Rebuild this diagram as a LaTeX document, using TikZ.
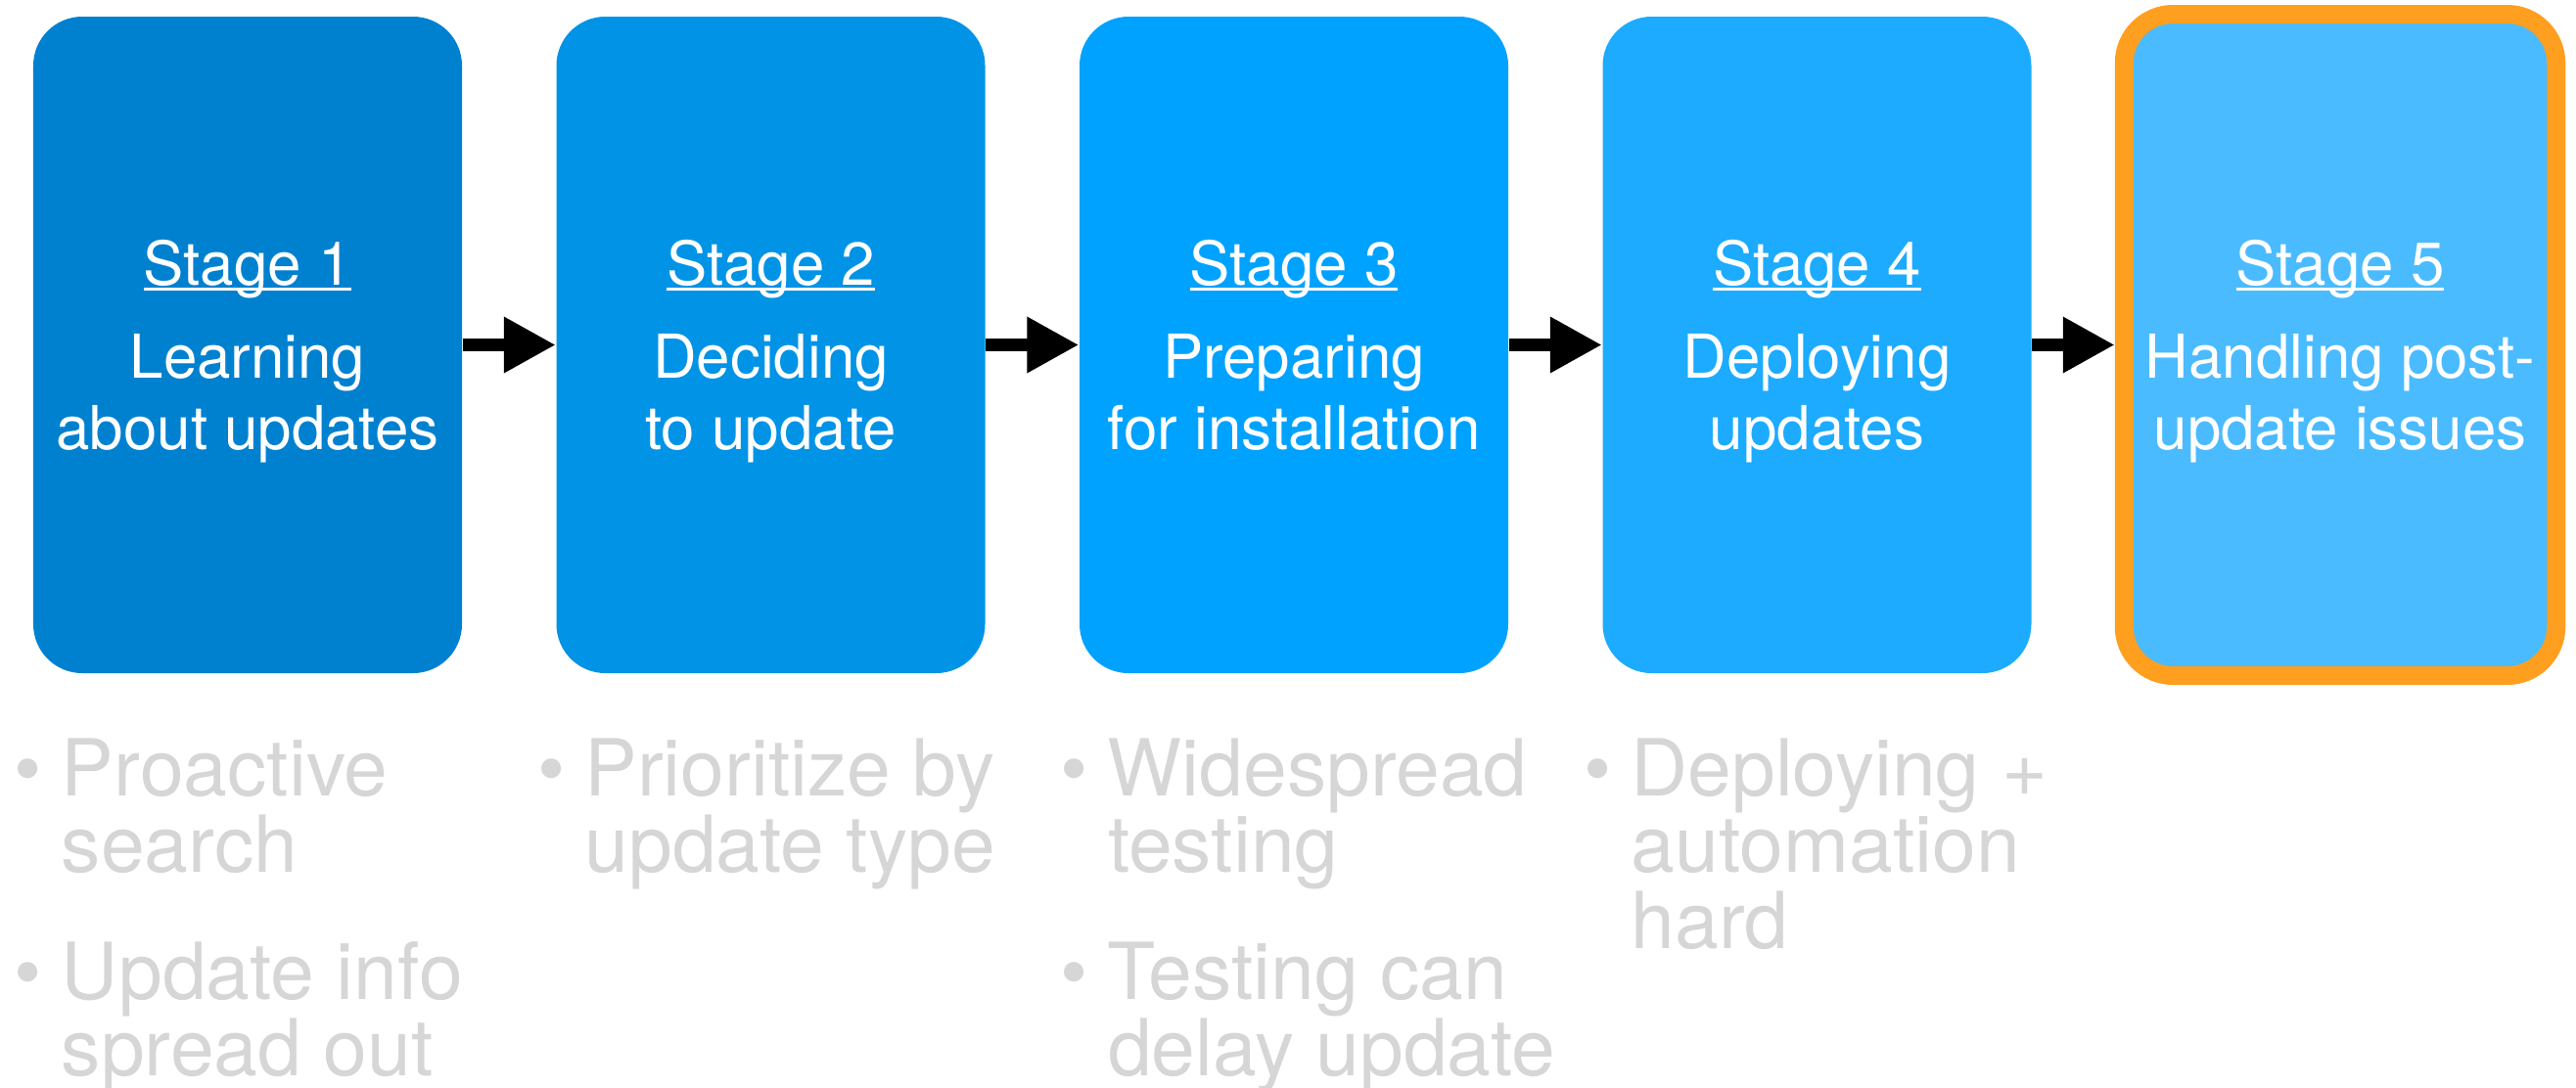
\documentclass[tikz,border=0pt]{standalone}
\usepackage{fontspec}
\setmainfont{TeX Gyre Heros}
\usepackage{xcolor}
\usepackage{tikz}
\usetikzlibrary{arrows.meta,positioning}

\definecolor{stageA}{HTML}{0081D0}
\definecolor{stageB}{HTML}{0093E6}
\definecolor{stageC}{HTML}{00A2FF}
\definecolor{stageD}{HTML}{1CABFF}
\definecolor{stageE}{HTML}{4BBBFF}
\definecolor{stageorange}{HTML}{FF9F20}
\definecolor{notegray}{HTML}{D6D6D6}

\newsavebox{\titlebox}
\newcommand{\stagetitle}[1]{\sbox{\titlebox}{#1}\rule{0pt}{17pt}\rlap{\rule[-0.1em]{\wd\titlebox}{0.055em}}\usebox{\titlebox}}
\newcommand{\stagetext}[3]{\stagetitle{#1}\\[6pt]#2\\#3\vphantom{p}}
\newcommand{\itembullet}{\llap{\textbullet\hspace{5.7pt}}}

\begin{document}
\begin{tikzpicture}[node distance=5.345cm, auto]
        \tikzset{stage/.style={rectangle, rounded corners=0.5cm, minimum width=4.38cm, minimum height=6.71cm, inner sep=0pt, text=white, align=center, font=\fontsize{17.6}{21}\selectfont}}
        \tikzset{current/.style={stage, draw=stageorange, line width=0.19cm, minimum width=4.415cm, minimum height=6.76cm}}
        \tikzset{notes/.style={align=left, inner sep=0pt, text=notegray, font=\fontsize{22.9}{22.2}\selectfont}}
        \tikzset{flow/.style={-{Triangle[length=0.53cm,width=0.54cm]}, line width=0.13cm}}

        \useasboundingbox (0,0) rectangle (26.32,-11.11);

        \node [stage, fill=stageA] (s1) at (2.53,-3.525) {\stagetext{Stage 1}{Learning}{about updates}};
        \node [stage, fill=stageB, right of=s1] (s2) {\stagetext{Stage 2}{Deciding}{to update}};
        \node [stage, fill=stageC, right of=s2] (s3) {\stagetext{Stage 3}{Preparing}{for installation}};
        \node [stage, fill=stageD, right of=s3] (s4) {\stagetext{Stage 4}{Deploying}{updates}};
        \node [current, fill=stageE, right of=s4] (s5) {\stagetext{Stage 5}{Handling post-}{update issues}};

        \draw [flow] (s1) edge (s2);
        \draw [flow] (s2) edge (s3);
        \draw [flow] (s3) edge (s4);
        \draw [flow] (s4) edge (s5);

        % findings under each stage
        \node [notes, below right=0.65cm and 0.29cm of s1.south west] (n1) {\itembullet Proactive\\search\\[14.8pt]\itembullet Update info\\spread out};
        \node [notes, below right=0.65cm and 0.29cm of s2.south west] (n2) {\itembullet Prioritize by\\update type};
        \node [notes, below right=0.65cm and 0.29cm of s3.south west] (n3) {\itembullet Widespread\\testing\\[14.8pt]\itembullet Testing can\\delay update};
        \node [notes, below right=0.65cm and 0.29cm of s4.south west] (n4) {\itembullet Deploying +\\automation\\hard};
    \end{tikzpicture}
\end{document}
